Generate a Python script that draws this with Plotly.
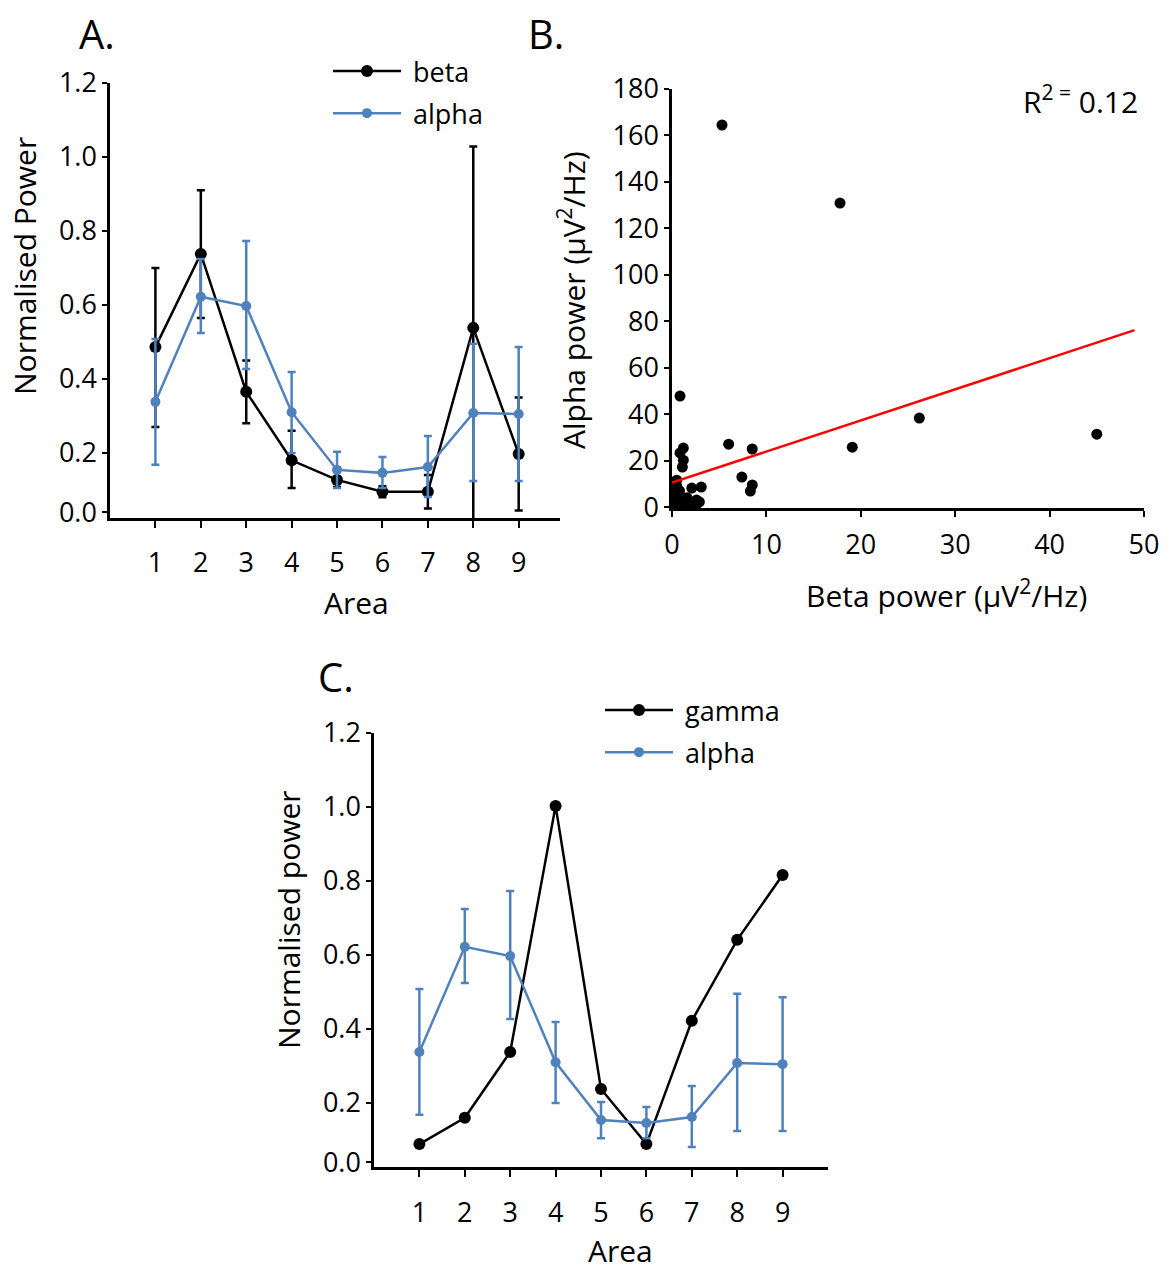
import plotly.graph_objects as go

# ---------------- data ----------------
areas = [1, 2, 3, 4, 5, 6, 7, 8, 9]
beta_mean = [0.486, 0.738, 0.365, 0.180, 0.127, 0.095, 0.095, 0.538, 0.197]
beta_err_up = [0.214, 0.172, 0.085, 0.080, 0.033, 0.015, 0.045, 0.490, 0.153]
beta_err_down = [0.216, 0.173, 0.085, 0.075, 0.019, 0.015, 0.045, 0.538, 0.153]

alpha_mean = [0.338, 0.622, 0.597, 0.310, 0.154, 0.146, 0.162, 0.308, 0.305]
alpha_err_up = [0.170, 0.102, 0.176, 0.109, 0.049, 0.043, 0.084, 0.187, 0.181]
alpha_err_down = [0.170, 0.098, 0.170, 0.110, 0.049, 0.041, 0.081, 0.184, 0.181]

gamma_mean = [0.089, 0.160, 0.338, 1.003, 0.238, 0.089, 0.422, 0.641, 0.816]

beta_power = [5.3, 17.8, 26.2, 19.1, 45.0, 6.0, 8.5, 7.4, 8.5, 8.3, 0.85, 1.2, 0.85, 1.2, 1.1,
              2.1, 3.1, 2.6, 2.1, 0.5, 0.5, 0.3, 0.7, 0.2, 1.2, 1.6, 0.8, 1.0, 2.6, 2.9,
              1.7, 0.4, 0.6, 0.3, 1.4]
alpha_power = [164.5, 130.9, 38.3, 25.8, 31.4, 27.1, 25.0, 12.9, 9.5, 6.9, 47.8, 25.4, 23.3, 20.2, 17.2,
               8.2, 8.6, 3.0, 0.3, 11.6, 9.0, 6.0, 3.0, 1.0, 1.7, 4.0, 7.0, 0.5, 1.2, 2.2,
               1.5, 4.5, 2.0, 10.0, 0.3]
trend_intercept = 10.5
trend_slope = 1.34
trend_x = [0, 49]
r_squared = 0.12

norm_ticks = [0.04, 0.2, 0.4, 0.6, 0.8, 1.0, 1.2]
norm_ticktext = ["0.0", "0.2", "0.4", "0.6", "0.8", "1.0", "1.2"]
b_xticks = [0, 10, 20, 30, 40, 50]
b_yticks = [0, 20, 40, 60, 80, 100, 120, 140, 160, 180]

BLUE = "#4f81bd"
FONT = "Open Sans"
FS = 27
TFS = 30
W, H = 1174, 1271
PAD = "\u00a0"

def px_x(p):
    return p / W

def px_y(p):
    return 1 - p / H

fig = go.Figure()

# ---------- Panel A ----------
fig.add_trace(go.Scatter(
    x=areas, y=beta_mean, mode="lines+markers", name=PAD + "beta",
    line=dict(color="black", width=2.5), marker=dict(color="black", size=12),
    error_y=dict(type="data", symmetric=False, array=beta_err_up, arrayminus=beta_err_down,
                 color="black", thickness=2.5, width=4),
    xaxis="x", yaxis="y", legend="legend", legendgroup="a1"))
fig.add_trace(go.Scatter(
    x=areas, y=alpha_mean, mode="lines+markers", name=PAD + "alpha",
    line=dict(color=BLUE, width=2.5), marker=dict(color=BLUE, size=10),
    error_y=dict(type="data", symmetric=False, array=alpha_err_up, arrayminus=alpha_err_down,
                 color=BLUE, thickness=2.5, width=4),
    xaxis="x", yaxis="y", legend="legend", legendgroup="a2"))

# ---------- Panel B ----------
fig.add_trace(go.Scatter(
    x=beta_power, y=alpha_power, mode="markers", showlegend=False,
    marker=dict(color="black", size=11), xaxis="x2", yaxis="y2"))
fig.add_trace(go.Scatter(
    x=trend_x, y=[trend_intercept + trend_slope * v for v in trend_x], mode="lines",
    showlegend=False, line=dict(color="#ff0000", width=2.5), xaxis="x2", yaxis="y2"))

# ---------- Panel C ----------
fig.add_trace(go.Scatter(
    x=areas, y=gamma_mean, mode="lines+markers", name=PAD + "gamma",
    line=dict(color="black", width=2.5), marker=dict(color="black", size=12),
    xaxis="x3", yaxis="y3", legend="legend2", legendgroup="c1"))
fig.add_trace(go.Scatter(
    x=areas, y=alpha_mean, mode="lines+markers", name=PAD + "alpha",
    line=dict(color=BLUE, width=2.5), marker=dict(color=BLUE, size=10),
    error_y=dict(type="data", symmetric=False, array=alpha_err_up, arrayminus=alpha_err_down,
                 color=BLUE, thickness=2.5, width=4),
    xaxis="x3", yaxis="y3", legend="legend2", legendgroup="c2"))

axis_common = dict(showline=True, linecolor="black", linewidth=2.5, showgrid=False,
                   zeroline=False, ticks="outside", tickcolor="black", tickwidth=2,
                   automargin=False,
                   tickfont=dict(family=FONT, size=FS, color="black"))

fig.update_layout(
    width=W, height=H, margin=dict(l=0, r=0, t=0, b=0, autoexpand=False),
    paper_bgcolor="white", plot_bgcolor="white",
    font=dict(family=FONT, size=FS, color="black"),
    xaxis=dict(axis_common, domain=[px_x(110), px_x(560)], range=[0, 9.91],
               tickvals=areas, ticklen=7, ticklabelstandoff=12, anchor="y"),
    yaxis=dict(axis_common, domain=[px_y(518), px_y(83)], range=[0.024, 1.2],
               tickvals=norm_ticks, ticktext=norm_ticktext, ticklen=5, anchor="x"),
    xaxis2=dict(axis_common, domain=[px_x(672), px_x(1144)], range=[0, 50],
                tickvals=b_xticks, ticklen=6, ticklabelstandoff=5, anchor="y2"),
    yaxis2=dict(axis_common, domain=[px_y(508), px_y(89)], range=[-0.4, 180],
                tickvals=b_yticks, ticklen=5, anchor="x2"),
    xaxis3=dict(axis_common, domain=[px_x(374), px_x(828)], range=[0, 10],
                tickvals=areas, ticklen=7, ticklabelstandoff=13, anchor="y3"),
    yaxis3=dict(axis_common, domain=[px_y(1167), px_y(733)], range=[0.027, 1.2],
                tickvals=norm_ticks, ticktext=norm_ticktext, ticklen=5, anchor="x3"),
    legend=dict(x=px_x(328), y=px_y(47), xanchor="left", yanchor="top",
                font=dict(family=FONT, size=FS), itemwidth=68, tracegroupgap=4,
                bgcolor="rgba(0,0,0,0)"),
    legend2=dict(x=px_x(600), y=px_y(686), xanchor="left", yanchor="top",
                 font=dict(family=FONT, size=FS), itemwidth=68, tracegroupgap=4,
                 bgcolor="rgba(0,0,0,0)"),
)

annotations = [
    dict(text="A.", x=px_x(97), y=px_y(34), font=dict(size=40)),
    dict(text="B.", x=px_x(546), y=px_y(34), font=dict(size=40)),
    dict(text="C.", x=px_x(336), y=px_y(676), font=dict(size=40)),
    dict(text="Normalised Power", x=px_x(25), y=px_y(266), textangle=-90),
    dict(text="Area", x=px_x(356), y=px_y(603)),
    dict(text="Alpha power (μV<sup>2</sup>/Hz)", x=px_x(572), y=px_y(300), textangle=-90),
    dict(text="Beta power (μV<sup>2</sup>/Hz)", x=px_x(946), y=px_y(594)),
    dict(text="R<sup>2 =</sup> %.2f" % r_squared, x=px_x(1080), y=px_y(100)),
    dict(text="Normalised power", x=px_x(288), y=px_y(920), textangle=-90),
    dict(text="Area", x=px_x(620), y=px_y(1250)),
]
fig.update_layout(annotations=[dict(a, xref="paper", yref="paper", showarrow=False,
                                    xanchor="center", yanchor="middle",
                                    font=a.get("font", dict(size=TFS))) for a in annotations])

fig.write_html("out.html")
